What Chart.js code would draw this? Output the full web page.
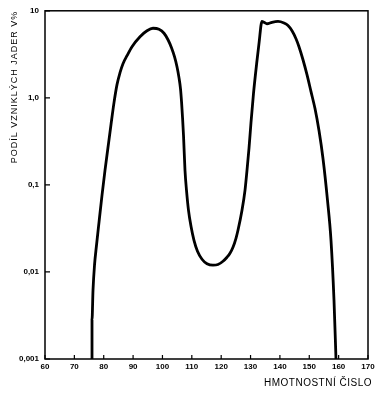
<!DOCTYPE html>
<html>
<head>
<meta charset="utf-8">
<script src="https://cdn.jsdelivr.net/npm/chart.js@4.4.1/dist/chart.umd.min.js"></script>
<style>
html,body{margin:0;padding:0;background:#fff;}
#wrap{width:383px;height:394px;position:relative;}
</style>
</head>
<body>
<div id="wrap"><canvas id="c" width="383" height="394"></canvas></div>
<script>
// Mass numbers (x) and fission yield in % (y)
const massNumbers = [76.01, 76.01, 76.35, 76.86, 77.54, 78.39, 79.41, 80.43, 81.45, 82.48, 83.50, 84.52, 85.54, 86.56, 87.93, 89.63, 92.35, 94.74, 96.78, 98.82, 100.53, 101.89, 103.08, 104.10, 104.95, 105.63, 106.14, 106.52, 106.86, 107.17, 107.68, 108.19, 108.87, 109.72, 110.74, 111.93, 113.47, 115.17, 117.21, 118.91, 120.62, 121.98, 123.00, 124.02, 125.04, 125.72, 127.09, 128.11, 128.79, 129.47, 130.15, 131.00, 132.19, 132.87, 133.89, 134.58, 135.60, 137.30, 139.35, 141.39, 142.75, 144.12, 145.48, 146.50, 147.86, 149.22, 150.59, 151.95, 153.31, 154.67, 156.21, 157.40, 158.42, 159.10];
const yieldPercent = [0.001, 0.0028, 0.00618, 0.01195, 0.02026, 0.0372, 0.0758, 0.1466, 0.269, 0.494, 0.882, 1.419, 1.947, 2.47, 3.05, 3.87, 5.04, 5.90, 6.30, 6.14, 5.52, 4.65, 3.77, 2.97, 2.28, 1.707, 1.276, 0.882, 0.578, 0.369, 0.1466, 0.0865, 0.051, 0.03345, 0.0231, 0.01729, 0.0140, 0.01243, 0.01195, 0.01217, 0.01328, 0.01476, 0.0164, 0.01922, 0.02437, 0.0301, 0.051, 0.0865, 0.1466, 0.262, 0.520, 1.12, 2.67, 4.19, 7.54, 7.38, 7.10, 7.38, 7.54, 7.23, 6.77, 5.90, 4.78, 3.87, 2.74, 1.847, 1.179, 0.753, 0.421, 0.201, 0.0664, 0.0231, 0.00474, 0.001];
const xTicks = [60, 70, 80, 90, 100, 110, 120, 130, 140, 150, 160, 170];
const yTicks = [0.001, 0.01, 0.1, 1, 10];
const yTickLabels = ["0,001", "0,01", "0,1", "1,0", "10"];
const yTitle = "PODÍL VZNIKLÝCH JADER V%";
const xTitle = "HMOTNOSTNÍ ČISLO";

const points = massNumbers.map((m, i) => ({x: m, y: yieldPercent[i]}));

function spaced(scale, px, dx) {
  if (scale._spacedWrapped) return;
  const orig = scale.drawTitle.bind(scale);
  scale.drawTitle = function () {
    const ctx = this.ctx;
    ctx.save();
    ctx.translate(dx, 0);
    ctx.letterSpacing = px;
    orig();
    ctx.restore();
  };
  scale._spacedWrapped = true;
}

const framePlugin = {
  id: 'frame',
  afterLayout(chart) {
    spaced(chart.scales.x, '0.5px', 4);
    spaced(chart.scales.y, '1px', 0);
  },
  afterDraw(chart) {
    const ctx = chart.ctx, a = chart.chartArea;
    const xs = chart.scales.x, ys = chart.scales.y;
    ctx.save();
    ctx.strokeStyle = '#000';
    ctx.lineWidth = 1.5;
    ctx.strokeRect(a.left, a.top, a.right - a.left, a.bottom - a.top);
    ctx.lineWidth = 1.2;
    ctx.beginPath();
    xTicks.forEach(v => {
      const px = xs.getPixelForValue(v);
      ctx.moveTo(px, a.bottom); ctx.lineTo(px, a.bottom - 4);
    });
    yTicks.forEach(v => {
      const py = ys.getPixelForValue(v);
      ctx.moveTo(a.left, py); ctx.lineTo(a.left + 5, py);
    });
    ctx.stroke();
    ctx.restore();
  }
};

new Chart(document.getElementById('c'), {
  type: 'line',
  data: {
    datasets: [{
      data: points,
      borderColor: '#000',
      borderWidth: 2.8,
      pointRadius: 0,
      fill: false,
      cubicInterpolationMode: 'monotone'
    }]
  },
  options: {
    responsive: false,
    animation: false,
    layout: {padding: {top: 10, right: 15, bottom: 0, left: 0}},
    plugins: {legend: {display: false}, tooltip: {enabled: false}},
    scales: {
      x: {
        type: 'linear', min: 60, max: 170,
        grid: {display: false, drawTicks: false},
        border: {display: false},
        afterBuildTicks: s => { s.ticks = xTicks.map(v => ({value: v})); },
        afterFit: s => { s.height = 35; },
        ticks: {
          color: '#000', padding: 3,
          font: {family: 'Arial, Liberation Sans', size: 8, weight: 'bold'},
          maxRotation: 0, autoSkip: false,
          callback: v => String(v)
        },
        title: {
          display: true, text: xTitle, align: 'end', color: '#000',
          font: {family: 'Arial, Liberation Sans', size: 10},
          padding: {top: 0, bottom: 5}
        }
      },
      y: {
        type: 'logarithmic', min: 0.001, max: 10,
        grid: {display: false, drawTicks: false},
        border: {display: false},
        afterBuildTicks: s => { s.ticks = yTicks.map(v => ({value: v})); },
        afterFit: s => { s.width = 45; },
        ticks: {
          color: '#000', padding: 6,
          font: {family: 'Arial, Liberation Sans', size: 8, weight: 'bold'},
          autoSkip: false,
          callback: (v) => { const i = yTicks.indexOf(v); return i >= 0 ? yTickLabels[i] : ''; }
        },
        title: {
          display: true, text: yTitle, align: 'end', color: '#000',
          font: {family: 'Arial, Liberation Sans', size: 9},
          padding: {top: 9, bottom: 0}
        }
      }
    }
  },
  plugins: [framePlugin]
});
</script>
</body>
</html>
